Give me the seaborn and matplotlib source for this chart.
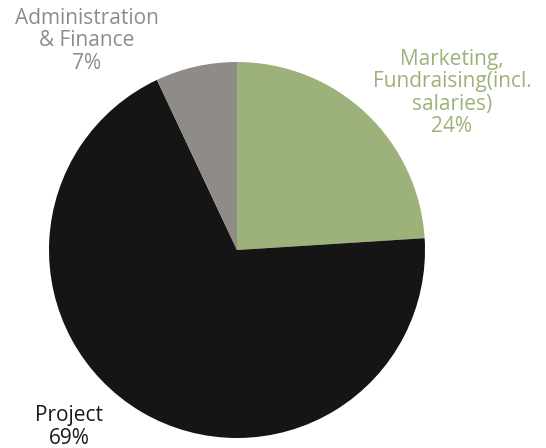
import matplotlib
matplotlib.use("Agg")
import matplotlib.pyplot as plt
import seaborn as sns

categories = ["Marketing,\nFundraising(incl.\nsalaries)", "Project", "Administration\n& Finance"]
values = [24, 69, 7]
colors = ["#9db17a", "#151515", "#8f8c87"]
label_colors = ["#9db17a", "#1a1a1a", "#8c8c8c"]

sns.set_theme(style="white")
plt.rcParams['font.family'] = ['Open Sans', 'DejaVu Sans']

fig = plt.figure(figsize=(5.46, 4.48), dpi=100)
ax = fig.add_axes([49/546, (448-250-188)/448, 376/546, 376/448])
ax.pie(values, colors=colors, startangle=90, counterclock=False,
       wedgeprops=dict(linewidth=0), radius=1)
ax.set_aspect('equal')
ax.set_xlim(-1, 1)
ax.set_ylim(-1, 1)
ax.axis('off')

label_pos = [(452, 93), (69, 427), (87, 41)]
for cat, v, c, (px, py) in zip(categories, values, label_colors, label_pos):
    fig.text(px/546, 1-py/448, f"{cat}\n{v}%", ha='center', va='center',
             color=c, fontsize=15, linespacing=1.1)

fig.savefig("out.png", dpi=100)
